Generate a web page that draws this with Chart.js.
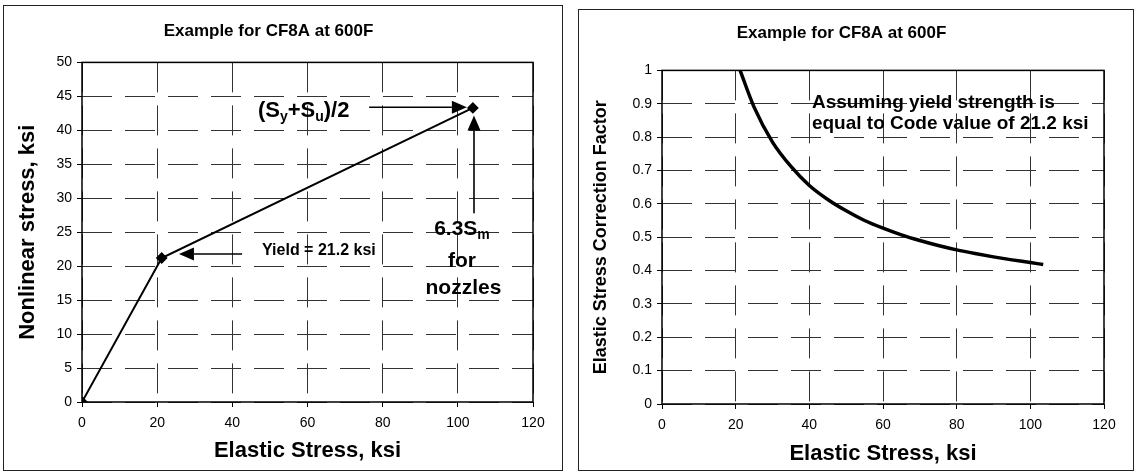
<!DOCTYPE html>
<html>
<head>
<meta charset="utf-8">
<script src="https://cdn.jsdelivr.net/npm/chart.js@4.4.0/dist/chart.umd.min.js"></script>
<style>
body { margin: 0; background: #fff; width: 1137px; height: 473px; position: relative; overflow: hidden; }
.panel { position: absolute; box-sizing: border-box; border: 1px solid #222; background: #fff; }
#p1 { left: 3px; top: 5px; width: 560px; height: 466px; }
#p2 { left: 578px; top: 9px; width: 556px; height: 462px; }
canvas { display: block; }
</style>
</head>
<body>
<div class="panel" id="p1"><canvas id="c1" width="558" height="464"></canvas></div>
<div class="panel" id="p2"><canvas id="c2" width="554" height="460"></canvas></div>
<script>
// left chart: elastic vs nonlinear stress
const elasticX = [0, 21.2, 104];
const nonlinearY = [0, 21.2, 43.3];

// right chart: correction factor
const factorX = [21.2, 25, 30, 35, 40, 45, 50, 55, 60, 65, 70, 75, 80, 85, 90, 95, 100, 103.5];
const factorY = [1.0, 0.89, 0.785, 0.712, 0.655, 0.613, 0.579, 0.55, 0.527, 0.507, 0.49, 0.475, 0.462, 0.451, 0.441, 0.432, 0.424, 0.418];

const xTickLabels = ['0', '20', '40', '60', '80', '100', '120'];
const leftYTickLabels = ['0', '5', '10', '15', '20', '25', '30', '35', '40', '45', '50'];
const rightYTickLabels = ['0', '0.1', '0.2', '0.3', '0.4', '0.5', '0.6', '0.7', '0.8', '0.9', '1'];

const FONT = 'Arial, "Liberation Sans", sans-serif';
Chart.defaults.font.family = FONT;
Chart.defaults.color = '#000';

// split "S_y" style strings into normal / subscript parts
function splitParts(str) {
    const parts = [];
    let buf = '';
    for (let i = 0; i < str.length; i++) {
        if (str[i] === '_' && i + 1 < str.length) {
            if (buf) parts.push({ t: buf, sub: false });
            buf = '';
            parts.push({ t: str[i + 1], sub: true });
            i++;
        } else {
            buf += str[i];
        }
    }
    if (buf) parts.push({ t: buf, sub: false });
    return parts;
}

function drawLabel(ctx, str, x, y, size, align) {
    const parts = splitParts(str);
    const subSize = Math.round(size * 0.65);
    let total = 0;
    parts.forEach(p => {
        ctx.font = `bold ${p.sub ? subSize : size}px ${FONT}`;
        p.w = ctx.measureText(p.t).width;
        total += p.w;
    });
    let cx = align === 'center' ? x - total / 2 : x;
    ctx.textAlign = 'left';
    ctx.textBaseline = 'middle';
    parts.forEach(p => {
        ctx.font = `bold ${p.sub ? subSize : size}px ${FONT}`;
        ctx.fillText(p.t, cx, p.sub ? y + size * 0.3 : y);
        cx += p.w;
    });
}

function drawArrow(ctx, x1, y1, x2, y2) {
    const ang = Math.atan2(y2 - y1, x2 - x1);
    const len = 15, half = 6.5;
    const bx = x2 - Math.cos(ang) * len, by = y2 - Math.sin(ang) * len;
    ctx.lineWidth = 1.6;
    ctx.beginPath();
    ctx.moveTo(x1, y1);
    ctx.lineTo(bx, by);
    ctx.stroke();
    ctx.beginPath();
    ctx.moveTo(x2, y2);
    ctx.lineTo(bx - Math.sin(ang) * half, by + Math.cos(ang) * half);
    ctx.lineTo(bx + Math.sin(ang) * half, by - Math.cos(ang) * half);
    ctx.closePath();
    ctx.fill();
}

const framePlugin = {
    id: 'frame',
    beforeDatasetsDraw(chart) {
        const { ctx, chartArea: a } = chart;
        ctx.save();
        ctx.strokeStyle = '#000';
        ctx.lineWidth = 1.5;
        ctx.strokeRect(a.left, a.top, a.right - a.left, a.bottom - a.top);
        ctx.restore();
    }
};

const notesPlugin = {
    id: 'notes',
    afterDatasetsDraw(chart, args, opts) {
        const { ctx, scales: { x, y } } = chart;
        ctx.save();
        ctx.fillStyle = '#000';
        ctx.strokeStyle = '#000';
        (opts.items || []).forEach(it => {
            if (it.arrow) {
                drawArrow(ctx, x.getPixelForValue(it.x1), y.getPixelForValue(it.y1),
                    x.getPixelForValue(it.x2), y.getPixelForValue(it.y2));
            } else {
                drawLabel(ctx, it.text, x.getPixelForValue(it.x), y.getPixelForValue(it.y), it.size, it.align);
            }
        });
        ctx.restore();
    }
};

function gridOpts() {
    return { color: '#333', lineWidth: 1, tickLength: 5, tickColor: '#000', drawOnChartArea: true };
}

function makeChart(canvasId, cfg) {
    return new Chart(document.getElementById(canvasId), {
        type: 'scatter',
        data: {
            datasets: [{
                data: cfg.xs.map((v, i) => ({ x: v, y: cfg.ys[i] })),
                showLine: true,
                borderColor: '#000',
                backgroundColor: '#000',
                borderWidth: cfg.lineWidth,
                pointStyle: 'rectRot',
                pointRadius: cfg.pointRadius,
                pointHoverRadius: cfg.pointRadius,
                cubicInterpolationMode: cfg.smooth ? 'monotone' : 'default'
            }]
        },
        options: {
            responsive: false,
            animation: false,
            events: [],
            layout: { padding: { left: 0, right: cfg.padRight, top: 0, bottom: 0 } },
            plugins: {
                legend: { display: false },
                tooltip: { enabled: false },
                title: {
                    display: true,
                    text: 'Example for CF8A at 600F',
                    font: { size: 17, weight: 'bold' },
                    color: '#000',
                    padding: cfg.titlePad
                },
                notes: { items: cfg.notes }
            },
            scales: {
                x: {
                    type: 'linear',
                    min: 0,
                    max: 120,
                    afterFit: s => { s.height = cfg.xAxisHeight; },
                    ticks: {
                        stepSize: 20,
                        padding: 8,
                        font: { size: 14 },
                        callback: (v, i) => xTickLabels[i]
                    },
                    grid: gridOpts(),
                    border: { display: false, dash: [30, 13] },
                    title: {
                        display: true,
                        text: 'Elastic Stress, ksi',
                        font: { size: 22, weight: 'bold' },
                        color: '#000',
                        padding: { top: 0, bottom: cfg.xTitlePad }
                    }
                },
                y: {
                    type: 'linear',
                    min: 0,
                    max: cfg.yMax,
                    afterFit: s => { s.width = cfg.yAxisWidth; },
                    ticks: {
                        stepSize: cfg.yStep,
                        padding: 5,
                        font: { size: 14 },
                        callback: (v, i) => cfg.yLabels[i]
                    },
                    grid: gridOpts(),
                    border: { display: false, dash: [30, 13] },
                    title: {
                        display: true,
                        text: cfg.yTitle,
                        font: { size: cfg.yTitleSize, weight: 'bold' },
                        color: '#000',
                        padding: { top: cfg.yTitlePad, bottom: 0 }
                    }
                }
            }
        },
        plugins: [framePlugin, notesPlugin]
    });
}

makeChart('c1', {
    xs: elasticX,
    ys: nonlinearY,
    lineWidth: 2,
    pointRadius: 4.5,
    smooth: false,
    padRight: 29,
    titlePad: { top: 15, bottom: 21 },
    xAxisHeight: 68,
    xTitlePad: 6,
    yAxisWidth: 78,
    yMax: 50,
    yStep: 5,
    yLabels: leftYTickLabels,
    yTitle: 'Nonlinear stress, ksi',
    yTitleSize: 22,
    yTitlePad: 11,
    notes: [
        { text: '(S_y+S_u)/2', x: 46.8, y: 42.9, size: 22, align: 'left' },
        { arrow: true, x1: 76.4, y1: 43.4, x2: 102.4, y2: 43.4 },
        { arrow: true, x1: 104.3, y1: 27.8, x2: 104.3, y2: 42.2 },
        { text: '6.3S_m', x: 101.1, y: 25.5, size: 21, align: 'center' },
        { text: 'for', x: 101.1, y: 20.8, size: 21, align: 'center' },
        { text: 'nozzles', x: 101.5, y: 16.8, size: 21, align: 'center' },
        { text: 'Yield = 21.2 ksi', x: 47.9, y: 22.3, size: 16, align: 'left' },
        { arrow: true, x1: 42.6, y1: 21.8, x2: 25.8, y2: 21.8 }
    ]
});

makeChart('c2', {
    xs: factorX,
    ys: factorY,
    lineWidth: 3.5,
    pointRadius: 0,
    smooth: true,
    padRight: 29,
    titlePad: { top: 13, bottom: 27 },
    xAxisHeight: 66,
    xTitlePad: 3,
    yAxisWidth: 83,
    yMax: 1,
    yStep: 0.1,
    yLabels: rightYTickLabels,
    yTitle: 'Elastic Stress Correction Factor',
    yTitleSize: 18,
    yTitlePad: 11,
    notes: [
        { text: 'Assuming yield strength is', x: 40.7, y: 0.904, size: 19, align: 'left' },
        { text: 'equal to Code value of 21.2 ksi', x: 40.7, y: 0.841, size: 19, align: 'left' }
    ]
});
</script>
</body>
</html>
